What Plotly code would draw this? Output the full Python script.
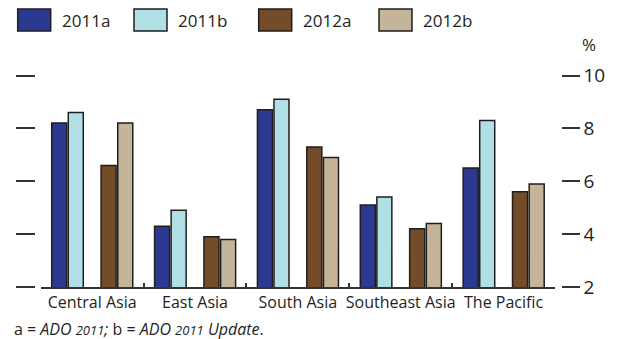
import plotly.graph_objects as go

# Regional growth forecasts (%)
regions = ["Central Asia", "East Asia", "South Asia", "Southeast Asia", "The Pacific"]
series_names = ["2011a", "2011b", "2012a", "2012b"]
v_2011a = [8.2, 4.3, 8.7, 5.1, 6.5]
v_2011b = [8.6, 4.9, 9.1, 5.4, 8.3]
v_2012a = [6.6, 3.9, 7.3, 4.2, 5.6]
v_2012b = [8.2, 3.8, 6.9, 4.4, 5.9]
y_ticks = [2, 4, 6, 8, 10]

values = [v_2011a, v_2011b, v_2012a, v_2012b]
colors = ["#2C3990", "#B0E0E6", "#754C29", "#C4B59A"]
offsets = [-0.393, -0.232, 0.087, 0.249]
bar_w = 0.146

W, H = 619, 339
FONT = "Open Sans"
INK = "#231F20"


def px(x):
    return x / W


def py(y):
    return 1 - y / H


fig = go.Figure()
for name, vals, col, off in zip(series_names, values, colors, offsets):
    fig.add_trace(go.Bar(
        x=regions, y=vals, name=name, base=0,
        offset=off, width=bar_w,
        marker=dict(color=col, line=dict(color="#1E1E1E", width=1.5)),
        showlegend=False,
    ))

# carrier for the labelled right-hand axis
fig.add_trace(go.Scatter(x=[regions[0]], y=[None], yaxis="y2",
                         showlegend=False, hoverinfo="skip"))

fig.update_layout(
    width=W, height=H,
    margin=dict(l=0, r=0, t=0, b=0),
    paper_bgcolor="white", plot_bgcolor="white",
    barmode="overlay",
    font=dict(family=FONT, color=INK),
    xaxis=dict(
        type="category", domain=[px(40.7), px(555)], range=[-0.5, 4.5],
        showline=True, linecolor="#333", linewidth=2,
        ticks="inside", tickson="boundaries", ticklen=4,
        tickcolor="#333", tickwidth=1.5, tickangle=0,
        tickfont=dict(size=16, color=INK), showgrid=False,
        anchor="y", automargin=False,
    ),
    yaxis=dict(
        domain=[py(287), py(75.5)], range=[2, 10],
        anchor="free", position=px(35),
        tickvals=y_ticks, ticks="outside", ticklen=19,
        tickcolor="#333", tickwidth=1.5,
        showticklabels=False, showline=False, showgrid=False, zeroline=False,
        automargin=False,
    ),
    yaxis2=dict(
        overlaying="y", side="right", range=[2, 10],
        anchor="free", position=px(560.7),
        tickvals=y_ticks, ticks="outside", ticklen=18,
        tickcolor="#333", tickwidth=1.5,
        tickfont=dict(size=19, color=INK),
        showline=False, showgrid=False, zeroline=False,
        automargin=False,
    ),
)

# Legend: swatch + label for each series
box_x = [17.7, 134, 258.7, 379]
for name, col, bx in zip(series_names, colors, box_x):
    fig.add_shape(type="rect", xref="paper", yref="paper",
                  x0=px(bx), x1=px(bx + 33), y0=py(31), y1=py(9),
                  fillcolor=col, line=dict(color="#1E1E1E", width=1.5))
    fig.add_annotation(xref="paper", yref="paper", x=px(bx + 42), y=py(20.5),
                       text=name, showarrow=False, xanchor="left", yanchor="middle",
                       font=dict(size=17, color=INK))

fig.add_annotation(xref="paper", yref="paper", x=px(589), y=py(44),
                   text="%", showarrow=False, xanchor="center", yanchor="middle",
                   font=dict(size=17, color=INK))

fig.add_annotation(
    xref="paper", yref="paper", x=px(12), y=py(329),
    text=("a = <i>ADO <span style='font-size:13px'>2011</span>;</i> b = "
          "<i>ADO <span style='font-size:13px'>2011</span> Update</i>."),
    showarrow=False, xanchor="left", yanchor="middle",
    font=dict(size=16, color=INK),
)

fig.write_html("out.html")
